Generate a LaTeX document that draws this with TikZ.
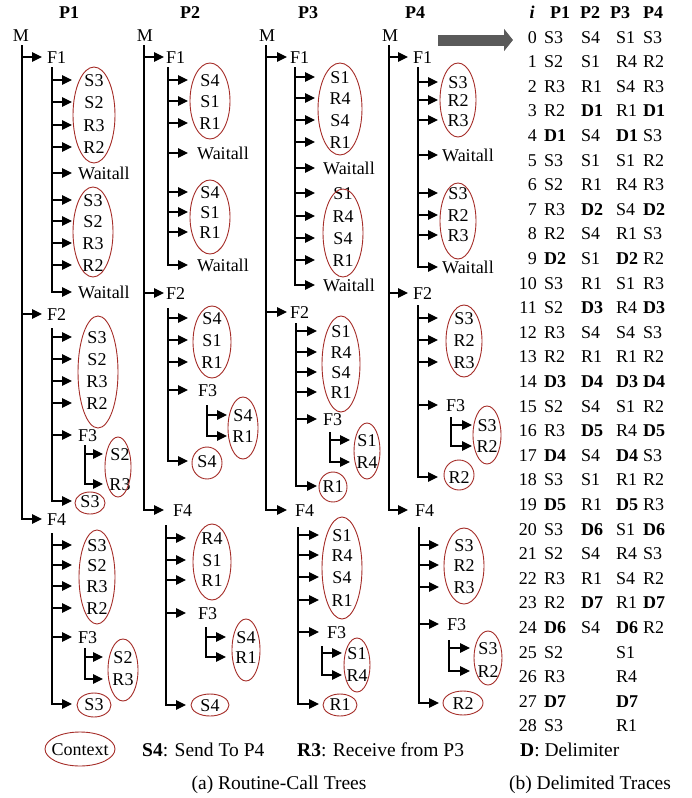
\documentclass[tikz,border=0pt]{standalone}
\usepackage{fontspec}
\setmainfont{Liberation Serif}
\usetikzlibrary{arrows.meta}
\definecolor{ctx}{RGB}{165,45,40}
\definecolor{bigarrow}{RGB}{90,90,90}
\newcommand\kid[3]{\draw[arr] (#1 |- #3) -- (#2 |- #3);}
\newcommand\lastkid[3]{\draw[arr] (#1) |- (#2 |- #3);}
\newcommand\ctxell[4]{\draw[ctxline] (#1,#2) ellipse [x radius=#3, y radius=#4];}
\newcommand\trow[5]{%
  \node[tb,anchor=east] (r#1) at (537,{37+24.6*#1}) {#1};
  \node[tb,anchor=west] (r#1a) at (544,{37+24.6*#1}) {#2};
  \node[tb,anchor=west] (r#1b) at (581,{37+24.6*#1}) {#3};
  \node[tb,anchor=west] (r#1c) at (616,{37+24.6*#1}) {#4};
  \node[tb,anchor=west] (r#1d) at (643,{37+24.6*#1}) {#5};}
\newcommand\trowh[3]{%
  \node[tb,anchor=east] (r#1) at (537,{37+24.6*#1}) {#1};
  \node[tb,anchor=west] (r#1a) at (544,{37+24.6*#1}) {#2};
  \node[tb,anchor=west] (r#1c) at (616,{37+24.6*#1}) {#3};}
\begin{document}
\begin{tikzpicture}[x=1pt,y=-1pt,
  tx/.style={inner sep=0pt,text height=12pt,text depth=0pt,font=\fontsize{18}{20}\selectfont},
  hd/.style={tx,font=\fontsize{18}{20}\selectfont\bfseries},
  tb/.style={tx},
  captxt/.style={inner sep=0pt,text height=13pt,text depth=0pt,font=\fontsize{19.5}{22}\selectfont},
  arr/.style={line width=1.1pt,-{Triangle[length=10pt,width=9.5pt]}},
  ctxline/.style={draw=ctx,line width=0.9pt},
  bigarr/.style={draw=bigarrow,line width=11pt,-{Triangle[length=9pt,width=22pt]}}]
\useasboundingbox (0,0) rectangle (692,798);
\fill[white] (0,0) rectangle (692,798);

% ===== P1 =====
\node[hd] (h1) at (69,12) {P1};
\node[tx] (p1m) at (21,35) {M};
\coordinate (p1mt) at (22,45); \coordinate (p1mp) at (42,45);
\node[tx,anchor=west] (p1f1) at (47,57) {F1};
\node[tx,anchor=west] (p1f2) at (47,314) {F2};
\node[tx,anchor=west] (p1f4) at (47,519) {F4};
\kid{p1mt}{p1mp}{p1f1}
\kid{p1mt}{p1mp}{p1f2}
\lastkid{p1mt}{p1mp}{p1f4}
% F1
\coordinate (p1at) at (52,67); \coordinate (p1ap) at (72,67);
\node[tx] (p1a1) at (94,80) {S3};
\node[tx] (p1a2) at (94,102) {S2};
\node[tx] (p1a3) at (94,125) {R3};
\node[tx] (p1a4) at (94,147) {R2};
\node[tx,anchor=west] (p1a5) at (78,173) {Waitall};
\node[tx] (p1a6) at (93,200) {S3};
\node[tx] (p1a7) at (93,221) {S2};
\node[tx] (p1a8) at (93,243) {R3};
\node[tx] (p1a9) at (93,265) {R2};
\node[tx,anchor=west] (p1a10) at (78,292) {Waitall};
\foreach \i in {1,...,9}{\kid{p1at}{p1ap}{p1a\i}}
\lastkid{p1at}{p1ap}{p1a10}
\ctxell{94}{115}{21}{48}
\ctxell{93}{232}{20}{45}
% F2
\coordinate (p1bt) at (52,328); \coordinate (p1bp) at (72,328);
\node[tx] (p1b1) at (97,337) {S3};
\node[tx] (p1b2) at (97,359) {S2};
\node[tx] (p1b3) at (97,381) {R3};
\node[tx] (p1b4) at (97,403) {R2};
\node[tx,anchor=west] (p1b5) at (78,435) {F3};
\node[tx] (p1b6) at (90,501) {S3};
\foreach \i in {1,...,5}{\kid{p1bt}{p1bp}{p1b\i}}
\lastkid{p1bt}{p1bp}{p1b6}
\ctxell{98}{372}{20}{56}
\ctxell{90}{503}{15}{11}
\coordinate (p1dt) at (85,445); \coordinate (p1dp) at (103,445);
\node[tx] (p1d1) at (120,454) {S2};
\node[tx] (p1d2) at (120,484) {R3};
\kid{p1dt}{p1dp}{p1d1}
\lastkid{p1dt}{p1dp}{p1d2}
\ctxell{118}{467}{13}{30}
% F4
\coordinate (p1ct) at (52,533); \coordinate (p1cp) at (72,533);
\node[tx] (p1c1) at (97,545) {S3};
\node[tx] (p1c2) at (97,565) {S2};
\node[tx] (p1c3) at (97,586) {R3};
\node[tx] (p1c4) at (97,608) {R2};
\node[tx,anchor=west] (p1c5) at (78,637) {F3};
\node[tx] (p1c6) at (94,704) {S3};
\foreach \i in {1,...,5}{\kid{p1ct}{p1cp}{p1c\i}}
\lastkid{p1ct}{p1cp}{p1c6}
\ctxell{97}{577}{18}{47}
\ctxell{94}{705}{17}{12}
\coordinate (p1et) at (85,648); \coordinate (p1ep) at (103,648);
\node[tx] (p1e1) at (123,657) {S2};
\node[tx] (p1e2) at (123,679) {R3};
\kid{p1et}{p1ep}{p1e1}
\lastkid{p1et}{p1ep}{p1e2}
\ctxell{123}{670}{15}{31}

% ===== P2 =====
\node[hd] (h2) at (190,12) {P2};
\node[tx] (p2m) at (145,35) {M};
\coordinate (p2mt) at (144,45); \coordinate (p2mp) at (164,45);
\node[tx,anchor=west] (p2f1) at (166,57) {F1};
\node[tx,anchor=west] (p2f2) at (166,293) {F2};
\node[tx,anchor=west] (p2f4) at (173,510) {F4};
\kid{p2mt}{p2mp}{p2f1}
\kid{p2mt}{p2mp}{p2f2}
\lastkid{p2mt}{p2mp}{p2f4}
% F1
\coordinate (p2at) at (168,67); \coordinate (p2ap) at (188,67);
\node[tx] (p2a1) at (210,80) {S4};
\node[tx] (p2a2) at (210,101) {S1};
\node[tx] (p2a3) at (210,123) {R1};
\node[tx,anchor=west] (p2a4) at (197,153) {Waitall};
\node[tx] (p2a5) at (210,192) {S4};
\node[tx] (p2a6) at (210,212) {S1};
\node[tx] (p2a7) at (210,232) {R1};
\node[tx,anchor=west] (p2a8) at (197,265) {Waitall};
\foreach \i in {1,...,7}{\kid{p2at}{p2ap}{p2a\i}}
\lastkid{p2at}{p2ap}{p2a8}
\ctxell{210}{101}{20}{38}
\ctxell{210}{217}{20}{37}
% F2
\coordinate (p2bt) at (168,308); \coordinate (p2bp) at (188,308);
\node[tx] (p2b1) at (212,318) {S4};
\node[tx] (p2b2) at (212,340) {S1};
\node[tx] (p2b3) at (212,362) {R1};
\node[tx,anchor=west] (p2b4) at (198,390) {F3};
\node[tx] (p2b5) at (207,461) {S4};
\foreach \i in {1,...,4}{\kid{p2bt}{p2bp}{p2b\i}}
\lastkid{p2bt}{p2bp}{p2b5}
\ctxell{212}{342}{19}{36}
\ctxell{207}{463}{15}{16}
\coordinate (p2dt) at (207,405); \coordinate (p2dp) at (227,405);
\node[tx] (p2d1) at (243,415) {S4};
\node[tx] (p2d2) at (243,436) {R1};
\kid{p2dt}{p2dp}{p2d1}
\lastkid{p2dt}{p2dp}{p2d2}
\ctxell{243}{428}{15}{31}
% F4
\coordinate (p2ct) at (166,525); \coordinate (p2cp) at (186,525);
\node[tx] (p2c1) at (212,538) {R4};
\node[tx] (p2c2) at (212,560) {S1};
\node[tx] (p2c3) at (212,580) {R1};
\node[tx,anchor=west] (p2c4) at (198,613) {F3};
\node[tx] (p2c5) at (210,705) {S4};
\foreach \i in {1,...,4}{\kid{p2ct}{p2cp}{p2c\i}}
\lastkid{p2ct}{p2cp}{p2c5}
\ctxell{212}{562}{19}{38}
\ctxell{210}{705}{19}{11}
\coordinate (p2et) at (206,627); \coordinate (p2ep) at (226,627);
\node[tx] (p2e1) at (246,637) {S4};
\node[tx] (p2e2) at (246,657) {R1};
\kid{p2et}{p2ep}{p2e1}
\lastkid{p2et}{p2ep}{p2e2}
\ctxell{246}{650}{14}{31}

% ===== P3 =====
\node[hd] (h3) at (308,12) {P3};
\node[tx] (p3m) at (267,35) {M};
\coordinate (p3mt) at (266,45); \coordinate (p3mp) at (287,45);
\node[tx,anchor=west] (p3f1) at (290,57) {F1};
\node[tx,anchor=west] (p3f2) at (290,312) {F2};
\node[tx,anchor=west] (p3f4) at (295,510) {F4};
\kid{p3mt}{p3mp}{p3f1}
\kid{p3mt}{p3mp}{p3f2}
\lastkid{p3mt}{p3mp}{p3f4}
% F1
\coordinate (p3at) at (295,67); \coordinate (p3ap) at (315,67);
\node[tx] (p3a1) at (340,77) {S1};
\node[tx] (p3a2) at (340,98) {R4};
\node[tx] (p3a3) at (340,120) {S4};
\node[tx] (p3a4) at (340,142) {R1};
\node[tx,anchor=west] (p3a5) at (323,168) {Waitall};
\node[tx] (p3a6) at (343,193) {S1};
\node[tx] (p3a7) at (343,216) {R4};
\node[tx] (p3a8) at (343,238) {S4};
\node[tx] (p3a9) at (343,260) {R1};
\node[tx,anchor=west] (p3a10) at (323,285) {Waitall};
\foreach \i in {1,...,9}{\kid{p3at}{p3ap}{p3a\i}}
\lastkid{p3at}{p3ap}{p3a10}
\ctxell{340}{109}{22}{46}
\ctxell{343}{233}{20}{44}
% F2
\coordinate (p3bt) at (296,323); \coordinate (p3bp) at (317,323);
\node[tx] (p3b1) at (341,331) {S1};
\node[tx] (p3b2) at (341,352) {R4};
\node[tx] (p3b3) at (341,372) {S4};
\node[tx] (p3b4) at (341,392) {R1};
\node[tx,anchor=west] (p3b5) at (323,419) {F3};
\node[tx] (p3b6) at (333,486) {R1};
\foreach \i in {1,...,5}{\kid{p3bt}{p3bp}{p3b\i}}
\lastkid{p3bt}{p3bp}{p3b6}
\ctxell{341}{364}{19}{48}
\ctxell{333}{487}{14}{15}
\coordinate (p3dt) at (330,432); \coordinate (p3dp) at (350,432);
\node[tx] (p3d1) at (367,440) {S1};
\node[tx] (p3d2) at (367,462) {R4};
\kid{p3dt}{p3dp}{p3d1}
\lastkid{p3dt}{p3dp}{p3d2}
\ctxell{367}{451}{13}{28}
% F4
\coordinate (p3ct) at (298,527); \coordinate (p3cp) at (319,527);
\node[tx] (p3c1) at (342,535) {S1};
\node[tx] (p3c2) at (342,555) {R4};
\node[tx] (p3c3) at (342,577) {S4};
\node[tx] (p3c4) at (342,600) {R1};
\node[tx,anchor=west] (p3c5) at (327,632) {F3};
\node[tx] (p3c6) at (340,704) {R1};
\foreach \i in {1,...,5}{\kid{p3ct}{p3cp}{p3c\i}}
\lastkid{p3ct}{p3cp}{p3c6}
\ctxell{342}{568}{20}{51}
\ctxell{340}{705}{17}{11}
\coordinate (p3et) at (322,646); \coordinate (p3ep) at (342,646);
\node[tx] (p3e1) at (357,653) {S1};
\node[tx] (p3e2) at (357,675) {R4};
\kid{p3et}{p3ep}{p3e1}
\lastkid{p3et}{p3ep}{p3e2}
\ctxell{357}{665}{13}{27}

% ===== P4 =====
\node[hd] (h4) at (415,12) {P4};
\node[tx] (p4m) at (390,35) {M};
\coordinate (p4mt) at (389,45); \coordinate (p4mp) at (408,45);
\node[tx,anchor=west] (p4f1) at (413,57) {F1};
\node[tx,anchor=west] (p4f2) at (413,293) {F2};
\node[tx,anchor=west] (p4f4) at (415,510) {F4};
\kid{p4mt}{p4mp}{p4f1}
\kid{p4mt}{p4mp}{p4f2}
\lastkid{p4mt}{p4mp}{p4f4}
% F1
\coordinate (p4at) at (418,67); \coordinate (p4ap) at (438,67);
\node[tx] (p4a1) at (458,82) {S3};
\node[tx] (p4a2) at (458,100) {R2};
\node[tx] (p4a3) at (458,120) {R3};
\node[tx,anchor=west] (p4a4) at (442,155) {Waitall};
\node[tx] (p4a5) at (458,193) {S3};
\node[tx] (p4a6) at (458,215) {R2};
\node[tx] (p4a7) at (458,235) {R3};
\node[tx,anchor=west] (p4a8) at (442,267) {Waitall};
\foreach \i in {1,...,7}{\kid{p4at}{p4ap}{p4a\i}}
\lastkid{p4at}{p4ap}{p4a8}
\ctxell{458}{100}{18}{37}
\ctxell{458}{221}{18}{38}
% F2
\coordinate (p4bt) at (418,305); \coordinate (p4bp) at (438,305);
\node[tx] (p4b1) at (464,318) {S3};
\node[tx] (p4b2) at (464,340) {R2};
\node[tx] (p4b3) at (464,362) {R3};
\node[tx,anchor=west] (p4b4) at (446,405) {F3};
\node[tx] (p4b5) at (459,477) {R2};
\foreach \i in {1,...,4}{\kid{p4bt}{p4bp}{p4b\i}}
\lastkid{p4bt}{p4bp}{p4b5}
\ctxell{464}{341}{18}{36}
\ctxell{459}{475}{15}{15}
\coordinate (p4dt) at (451,417); \coordinate (p4dp) at (472,417);
\node[tx] (p4d1) at (487,425) {S3};
\node[tx] (p4d2) at (487,446) {R2};
\kid{p4dt}{p4dp}{p4d1}
\lastkid{p4dt}{p4dp}{p4d2}
\ctxell{487}{435}{14}{29}
% F4
\coordinate (p4ct) at (419,527); \coordinate (p4cp) at (439,527);
\node[tx] (p4c1) at (464,545) {S3};
\node[tx] (p4c2) at (464,565) {R2};
\node[tx] (p4c3) at (464,587) {R3};
\node[tx,anchor=west] (p4c4) at (447,624) {F3};
\node[tx] (p4c5) at (463,703) {R2};
\foreach \i in {1,...,4}{\kid{p4ct}{p4cp}{p4c\i}}
\lastkid{p4ct}{p4cp}{p4c5}
\ctxell{464}{566}{20}{38}
\ctxell{463}{703}{20}{12}
\coordinate (p4et) at (449,640); \coordinate (p4ep) at (470,640);
\node[tx] (p4e1) at (488,648) {S3};
\node[tx] (p4e2) at (488,671) {R2};
\kid{p4et}{p4ep}{p4e1}
\lastkid{p4et}{p4ep}{p4e2}
\ctxell{488}{658}{14}{27}

% ===== big arrow =====
\coordinate (ga) at (438,40); \coordinate (gb) at (513,40);
\draw[bigarr] (ga) -- (gb);

% ===== table =====
\node[tb,font=\fontsize{18}{20}\selectfont\bfseries\itshape] (thi) at (532,12) {i};
\node[hd,anchor=west] (th1) at (550,12) {P1};
\node[hd,anchor=west] (th2) at (580,12) {P2};
\node[hd,anchor=west] (th3) at (610,12) {P3};
\node[hd,anchor=west] (th4) at (643,12) {P4};
\trow{0}{S3}{S4}{S1}{S3}
\trow{1}{S2}{S1}{R4}{R2}
\trow{2}{R3}{R1}{S4}{R3}
\trow{3}{R2}{\textbf{D1}}{R1}{\textbf{D1}}
\trow{4}{\textbf{D1}}{S4}{\textbf{D1}}{S3}
\trow{5}{S3}{S1}{S1}{R2}
\trow{6}{S2}{R1}{R4}{R3}
\trow{7}{R3}{\textbf{D2}}{S4}{\textbf{D2}}
\trow{8}{R2}{S4}{R1}{S3}
\trow{9}{\textbf{D2}}{S1}{\textbf{D2}}{R2}
\trow{10}{S3}{R1}{S1}{R3}
\trow{11}{S2}{\textbf{D3}}{R4}{\textbf{D3}}
\trow{12}{R3}{S4}{S4}{S3}
\trow{13}{R2}{R1}{R1}{R2}
\trow{14}{\textbf{D3}}{\textbf{D4}}{\textbf{D3}}{\textbf{D4}}
\trow{15}{S2}{S4}{S1}{R2}
\trow{16}{R3}{\textbf{D5}}{R4}{\textbf{D5}}
\trow{17}{\textbf{D4}}{S4}{\textbf{D4}}{S3}
\trow{18}{S3}{S1}{R1}{R2}
\trow{19}{\textbf{D5}}{R1}{\textbf{D5}}{R3}
\trow{20}{S3}{\textbf{D6}}{S1}{\textbf{D6}}
\trow{21}{S2}{S4}{R4}{S3}
\trow{22}{R3}{R1}{S4}{R2}
\trow{23}{R2}{\textbf{D7}}{R1}{\textbf{D7}}
\trow{24}{\textbf{D6}}{S4}{\textbf{D6}}{R2}
\trowh{25}{S2}{S1}
\trowh{26}{R3}{R4}
\trowh{27}{\textbf{D7}}{\textbf{D7}}
\trowh{28}{S3}{R1}

% ===== legend and captions =====
\node[tx] (ctxl) at (80,749) {Context};
\ctxell{80}{749}{35}{17}
\node[captxt,anchor=west] (lg1) at (142,750) {\textbf{S4}: Send To P4};
\node[captxt,anchor=west] (lg2) at (297,750) {\textbf{R3}: Receive from P3};
\node[captxt,anchor=west] (lg3) at (520,750) {\textbf{D}: Delimiter};
\node[captxt] (capa) at (279,783) {(a) Routine-Call Trees};
\node[captxt] (capb) at (590,783) {(b) Delimited Traces};
\end{tikzpicture}
\end{document}
